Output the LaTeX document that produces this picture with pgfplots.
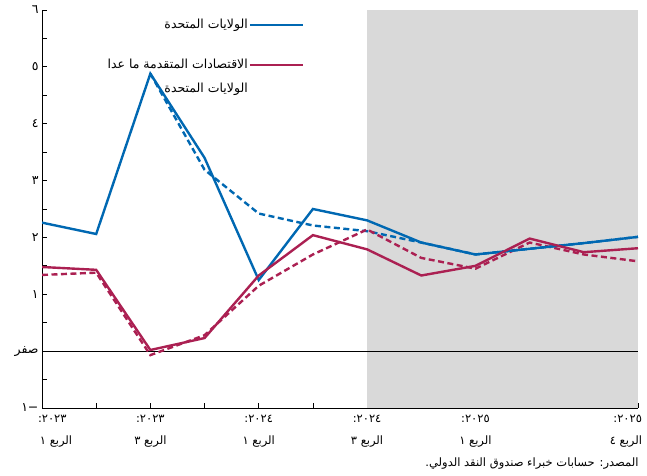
\documentclass[border=0pt]{standalone}
\usepackage{pgfplots}
\pgfplotsset{compat=1.18}
\usepackage{fontspec}
\setmainfont{Liberation Sans}
\newfontfamily\arabicfont[Script=Arabic]{DejaVu Sans}
\TeXXeTstate=1
\definecolor{usblue}{RGB}{0,104,178}
\definecolor{aered}{RGB}{171,32,82}
\definecolor{shade}{RGB}{217,217,217}
\begin{document}
\begin{tikzpicture}
\begin{axis}[
  scale only axis,
  width=596pt, height=398pt,
  xmin=0, xmax=11, ymin=-1, ymax=6,
  axis x line*=bottom, axis y line*=left,
  axis line style={line width=0.8pt, black},
  tick align=inside,
  major tick length=5pt, minor tick length=5pt,
  tick style={black, line width=0.8pt},
  xtick={0,...,11},
  xticklabels={
    {\makebox[0pt][l]{\hspace*{-4pt}\beginR ٢٠٢٣:\endR}\\\makebox[0pt][l]{\hspace*{-2pt}\beginR الربع ١\endR}}, {},
    {\beginR ٢٠٢٣:\endR\\\beginR الربع ٣\endR}, {},
    {\beginR ٢٠٢٤:\endR\\\beginR الربع ١\endR}, {},
    {\beginR ٢٠٢٤:\endR\\\beginR الربع ٣\endR}, {},
    {\beginR ٢٠٢٥:\endR\\\beginR الربع ١\endR}, {}, {},
    {\makebox[0pt][r]{\beginR ٢٠٢٥:\endR\hspace*{-4pt}}\\\makebox[0pt][r]{\beginR الربع ٤\endR\hspace*{-4pt}}}},
  xticklabel style={align=center, font=\arabicfont\fontsize{11.5}{22}\selectfont, yshift=-4pt},
  ytick={-1,0,...,6},
  minor ytick={-0.5,0.5,1.5,2.5,3.5,4.5,5.5},
  yticklabels={{\beginR −١\endR}, {\beginR صفر\endR}, {\beginR ١\endR}, {\beginR ٢\endR}, {\beginR ٣\endR}, {\beginR ٤\endR}, {\beginR ٥\endR}, {\beginR ٦\endR}},
  yticklabel style={font=\arabicfont\fontsize{12.5}{14}\selectfont},
  legend style={at={(rel axis cs:0.445,0.985)}, anchor=north east,
    draw=none, fill=none, font=\arabicfont\fontsize{12.5}{15}\selectfont,
    nodes={align=right, inner sep=1pt}, row sep=27pt},
  legend plot pos=right,
  legend cell align=right,
  legend image code/.code={\draw[#1, line width=2.2pt] (0pt,0pt) -- (53pt,0pt);},
]
\addplot[fill=shade, draw=none, forget plot] coordinates {(6,-1) (11,-1) (11,6) (6,6)} -- cycle;
\addplot[black, line width=0.6pt, forget plot] coordinates {(0,0) (11,0)};
% dashed series
\addplot[usblue, line width=2.4pt, dash pattern=on 6pt off 3.5pt, forget plot] coordinates {
(2,4.88) (3,3.19) (4,2.42) (5,2.21) (6,2.11) (7,1.91) (8,1.70) (9,1.80) (10,1.90) (11,2.01)};
\addplot[aered, line width=2.4pt, dash pattern=on 6pt off 3.5pt, forget plot] coordinates {
(0,1.34) (1,1.38) (2,-0.07) (3,0.28) (4,1.15) (5,1.70) (6,2.14) (7,1.64) (8,1.45) (9,1.91) (10,1.70) (11,1.58)};
% solid series
\addplot[usblue, line width=2.4pt] coordinates {
(0,2.26) (1,2.06) (2,4.88) (3,3.40) (4,1.25) (5,2.50) (6,2.30) (7,1.91) (8,1.70) (9,1.80) (10,1.90) (11,2.01)};
\addlegendentry{\beginR الولايات المتحدة\endR}
\addplot[aered, line width=2.4pt] coordinates {
(0,1.48) (1,1.43) (2,0.02) (3,0.23) (4,1.33) (5,2.04) (6,1.79) (7,1.33) (8,1.50) (9,1.98) (10,1.74) (11,1.81)};
\addlegendentry{\beginR الاقتصادات المتقدمة ما عدا\endR\makebox[0pt][r]{\raisebox{-24pt}[0pt][0pt]{\beginR الولايات المتحدة\endR}}}
\end{axis}
\node[anchor=base east, font=\arabicfont\fontsize{11.5}{13}\selectfont] at ([shift={(4pt,-59pt)}]current axis.south east) {\beginR المصدر: حسابات خبراء صندوق النقد الدولي.\endR};
\pgfresetboundingbox
\path ([shift={(-42pt,-68pt)}]current axis.south west) rectangle ([shift={(9pt,10pt)}]current axis.north east);
\end{tikzpicture}
\end{document}
